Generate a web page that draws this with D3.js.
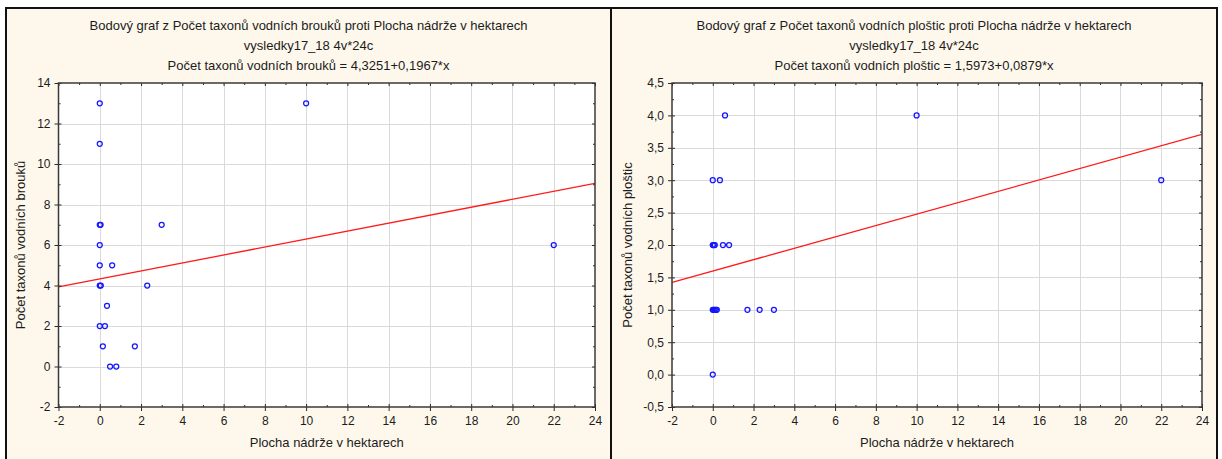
<!DOCTYPE html>
<html>
<head>
<meta charset="utf-8">
<script src="https://cdn.jsdelivr.net/npm/d3@7"></script>
<style>
  body { margin: 0; background: #ffffff; }
  text { font-family: "Liberation Sans", Arial, sans-serif; fill: #1c1c1c; }
</style>
</head>
<body>
<svg id="chart" width="1222" height="459"></svg>
<script>
// Plocha nádrže (ha) and number of taxa – water beetles
const areaBeetles  = [0, 0, 10, 0, 0.04, 3, 0, 22, 0, 0.6, 0, 0.05, 2.3, 0.35, 0, 0.25, 0.15, 1.7, 0.5, 0.8];
const taxaBeetles  = [13, 11, 13, 7, 7, 7, 6, 6, 5, 5, 4, 4, 4, 3, 2, 2, 1, 1, 0, 0];

// Plocha nádrže (ha) and number of taxa – water bugs
const areaBugs = [0.6, 10, 0, 0.35, 22, 0, 0.05, 0.1, 0.5, 0.8, 0, 0.05, 0.1, 0.15, 0.2, 1.7, 2.3, 3, 0];
const taxaBugs = [4, 4, 3, 3, 3, 2, 2, 2, 2, 2, 1, 1, 1, 1, 1, 1, 1, 1, 0];

// Linear fits printed in the subtitles: intercept, slope
const fitBeetles = [4.3251, 0.1967];
const fitBugs    = [1.5973, 0.0879];

// Axis ticks
const xTicks        = [-2, 0, 2, 4, 6, 8, 10, 12, 14, 16, 18, 20, 22, 24];
const yTicksBeetles = [-2, 0, 2, 4, 6, 8, 10, 12, 14];
const yTicksBugs    = [-0.5, 0, 0.5, 1, 1.5, 2, 2.5, 3, 3.5, 4, 4.5];

const titlesBeetles = [
  "Bodový graf z Počet taxonů vodních brouků proti Plocha nádrže v hektarech",
  "vysledky17_18 4v*24c",
  "Počet taxonů vodních brouků = 4,3251+0,1967*x"
];
const titlesBugs = [
  "Bodový graf z Počet taxonů vodních ploštic proti Plocha nádrže v hektarech",
  "vysledky17_18 4v*24c",
  "Počet taxonů vodních ploštic = 1,5973+0,0879*x"
];
const xLabel = "Plocha nádrže v hektarech";
const yLabelBeetles = "Počet taxonů vodních brouků";
const yLabelBugs = "Počet taxonů vodních ploštic";

const svg = d3.select("#chart");
const cream = "#fef8ec";
const fmtOneDec = d => d3.format(".1f")(d).replace(".", ",").replace("−", "-");

function panel(opt) {
  const g = svg.append("g");
  // panel background
  g.append("rect")
    .attr("x", opt.px0).attr("y", 8)
    .attr("width", opt.px1 - opt.px0).attr("height", 470)
    .attr("fill", cream);

  // titles
  opt.titles.forEach((t, i) => {
    g.append("text")
      .attr("x", (opt.px0 + opt.px1) / 2)
      .attr("y", 30 + i * 20)
      .attr("text-anchor", "middle")
      .style("font-size", "13px")
      .text(t);
  });

  const x = d3.scaleLinear().domain([-2, 24]).range([opt.l, opt.r]);
  const y = d3.scaleLinear().domain(opt.yDomain).range([opt.b, opt.t]);

  // plot area
  g.append("rect")
    .attr("x", opt.l).attr("y", opt.t)
    .attr("width", opt.r - opt.l).attr("height", opt.b - opt.t)
    .attr("fill", "#ffffff");

  // grid
  const grid = g.append("g").attr("stroke", "#dadada").attr("stroke-width", 1);
  xTicks.slice(1, -1).forEach(v => {
    grid.append("line")
      .attr("x1", Math.round(x(v)) + 0.5).attr("x2", Math.round(x(v)) + 0.5)
      .attr("y1", opt.t).attr("y2", opt.b);
  });
  opt.yTicks.slice(1, -1).forEach(v => {
    grid.append("line")
      .attr("x1", opt.l).attr("x2", opt.r)
      .attr("y1", Math.round(y(v)) + 0.5).attr("y2", Math.round(y(v)) + 0.5);
  });

  // regression line, clipped to the plot area
  const clipId = "clip" + opt.id;
  g.append("clipPath").attr("id", clipId)
    .append("rect").attr("x", opt.l).attr("y", opt.t)
    .attr("width", opt.r - opt.l).attr("height", opt.b - opt.t);
  const [a, b] = opt.fit;
  g.append("line")
    .attr("clip-path", `url(#${clipId})`)
    .attr("x1", x(-2)).attr("y1", y(a + b * -2))
    .attr("x2", x(24)).attr("y2", y(a + b * 24))
    .attr("stroke", "#ff1a1a").attr("stroke-width", 1.3);

  // points
  g.append("g").selectAll("circle")
    .data(opt.xs.map((v, i) => [v, opt.ys[i]]))
    .join("circle")
    .attr("cx", d => x(d[0])).attr("cy", d => y(d[1]))
    .attr("r", 2.5)
    .attr("fill", "none")
    .attr("stroke", "#1414ff")
    .attr("stroke-width", 1.25);

  // axes
  const axisColor = "#2a2a2a";
  const minorX = d3.range(-1, 24, 2);
  const minorY = opt.minorY;

  function styleAxis(sel) {
    sel.select(".domain").remove();
    sel.selectAll("line").attr("stroke", axisColor).attr("stroke-width", 1);
    sel.selectAll("text").style("font-size", "12px").attr("fill", "#1c1c1c");
  }

  // bottom: major ticks crossing the frame, labels below
  const bx = g.append("g").attr("transform", `translate(0,${opt.b})`)
    .call(d3.axisBottom(x).tickValues(xTicks).tickSize(4).tickPadding(5).tickFormat(d => d));
  styleAxis(bx);
  bx.selectAll(".tick line").attr("y1", -3);
  const bxm = g.append("g").attr("transform", `translate(0,${opt.b})`)
    .call(d3.axisBottom(x).tickValues(minorX).tickSize(-2).tickFormat(""));
  styleAxis(bxm);

  // left
  const ly = g.append("g").attr("transform", `translate(${opt.l},0)`)
    .call(d3.axisLeft(y).tickValues(opt.yTicks).tickSize(4).tickPadding(4).tickFormat(opt.yFormat));
  styleAxis(ly);
  ly.selectAll(".tick line").attr("x1", 3);
  const lym = g.append("g").attr("transform", `translate(${opt.l},0)`)
    .call(d3.axisLeft(y).tickValues(minorY).tickSize(-2).tickFormat(""));
  styleAxis(lym);

  // top and right mirror ticks pointing inward
  const tx = g.append("g").attr("transform", `translate(0,${opt.t})`)
    .call(d3.axisTop(x).tickValues(xTicks).tickSize(-3).tickFormat(""));
  styleAxis(tx);
  const txm = g.append("g").attr("transform", `translate(0,${opt.t})`)
    .call(d3.axisTop(x).tickValues(minorX).tickSize(-2).tickFormat(""));
  styleAxis(txm);
  const ry = g.append("g").attr("transform", `translate(${opt.r},0)`)
    .call(d3.axisRight(y).tickValues(opt.yTicks).tickSize(-3).tickFormat(""));
  styleAxis(ry);
  const rym = g.append("g").attr("transform", `translate(${opt.r},0)`)
    .call(d3.axisRight(y).tickValues(minorY).tickSize(-2).tickFormat(""));
  styleAxis(rym);

  // plot frame
  g.append("rect")
    .attr("x", opt.l).attr("y", opt.t)
    .attr("width", opt.r - opt.l).attr("height", opt.b - opt.t)
    .attr("fill", "none").attr("stroke", "#3a3a3a").attr("stroke-width", 1.5);

  // axis titles
  g.append("text")
    .attr("x", (opt.l + opt.r) / 2).attr("y", 447)
    .attr("text-anchor", "middle").style("font-size", "13px")
    .text(xLabel);
  g.append("text")
    .attr("transform", `translate(${opt.yLabelX},${(opt.t + opt.b) / 2}) rotate(-90)`)
    .attr("text-anchor", "middle").style("font-size", "13px")
    .text(opt.yLabel);
}

panel({
  id: "a", px0: 6, px1: 611, l: 58.5, r: 595, t: 83, b: 407,
  yDomain: [-2, 14], yTicks: yTicksBeetles, minorY: d3.range(-1, 14, 2),
  yFormat: d => String(d),
  xs: areaBeetles, ys: taxaBeetles, fit: fitBeetles,
  titles: titlesBeetles, yLabel: yLabelBeetles, yLabelX: 25
});
panel({
  id: "b", px0: 611, px1: 1217, l: 672, r: 1202, t: 83, b: 407,
  yDomain: [-0.5, 4.5], yTicks: yTicksBugs, minorY: d3.range(-0.25, 4.5, 0.5),
  yFormat: fmtOneDec,
  xs: areaBugs, ys: taxaBugs, fit: fitBugs,
  titles: titlesBugs, yLabel: yLabelBugs, yLabelX: 632
});

// outer frames of the two panels
svg.append("path")
  .attr("d", "M6,470 V8 H1217 V470 M611,8 V470")
  .attr("fill", "none").attr("stroke", "#111111").attr("stroke-width", 2);
</script>
</body>
</html>
